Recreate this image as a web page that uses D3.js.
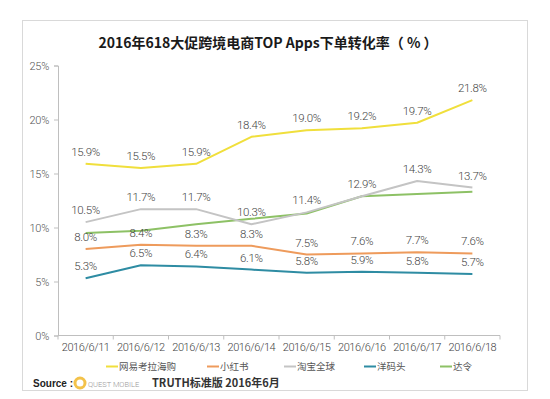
<!DOCTYPE html>
<html><head><meta charset="utf-8">
<script src="https://cdn.jsdelivr.net/npm/d3@7"></script>
<style>
body{margin:0;background:#fff;}
svg{display:block;}
</style></head>
<body>
<svg id="c" width="550" height="399"></svg>
<script>
const categories = ["2016/6/11","2016/6/12","2016/6/13","2016/6/14","2016/6/15","2016/6/16","2016/6/17","2016/6/18"];
const seriesNames = ["网易考拉海购","小红书","淘宝全球","洋码头","达令"];
const kaola = [15.9,15.5,15.9,18.4,19.0,19.2,19.7,21.8];
const xiaohongshu = [8.0,8.4,8.3,8.3,7.5,7.6,7.7,7.6];
const taobao = [10.5,11.7,11.7,10.3,11.4,12.9,14.3,13.7];
const yangmatou = [5.3,6.5,6.4,6.1,5.8,5.9,5.8,5.7];
const daling = [9.5,9.7,10.3,10.8,11.3,12.9,13.1,13.3];
const yTicks = [0,5,10,15,20,25];
const colors = ["#F0DF3C","#EE9B5C","#C4C4C4","#2E8CA3","#8DC165"];

const series = [
  {name:seriesNames[0], values:kaola, color:colors[0], labels:true},
  {name:seriesNames[1], values:xiaohongshu, color:colors[1], labels:true},
  {name:seriesNames[2], values:taobao, color:colors[2], labels:true},
  {name:seriesNames[3], values:yangmatou, color:colors[3], labels:true},
  {name:seriesNames[4], values:daling, color:colors[4], labels:false}
];

const svg = d3.select("#c");
const font = "Roboto,'Noto Sans',sans-serif";

// frame
svg.append("rect").attr("x",22.5).attr("y",20.5).attr("width",505).attr("height",370)
  .attr("fill","#fff").attr("stroke","#d9d9d9").attr("stroke-width",1);

// title
svg.append("text").attr("x",268).attr("y",48).attr("text-anchor","middle")
  .attr("font-family","'Noto Sans CJK SC',sans-serif").attr("font-weight","bold")
  .attr("font-size",14).attr("fill","#1a1a1a")
  .text("2016年618大促跨境电商TOP Apps下单转化率（ % ）");

const x = d3.scaleBand().domain(categories).range([58,500]);
const y = d3.scaleLinear().domain([0,25]).range([335.5,65.5]);

// y axis
const ya = svg.append("g").attr("transform","translate(58,0)")
  .call(d3.axisLeft(y).tickValues(yTicks).tickFormat(d=>d+"%").tickSize(4).tickPadding(5));
ya.select(".domain").attr("stroke","#bfbfbf");
ya.selectAll(".tick line").attr("stroke","#bfbfbf");
ya.selectAll("text").attr("font-family",font).attr("font-weight",300).attr("font-size",11)
  .attr("letter-spacing",-0.3).attr("fill","#555");

// x axis
const xa = svg.append("g").attr("transform","translate(0,335.5)")
  .call(d3.axisBottom(x).tickSize(0).tickPadding(8));
xa.select(".domain").attr("stroke","#bfbfbf").attr("d","M58,0H500");
xa.selectAll("text").attr("font-family",font).attr("font-weight",300).attr("font-size",11)
  .attr("letter-spacing",-0.4).attr("fill","#444");
// band boundary ticks
const bounds = categories.map(c=>x(c)).concat([x(categories[categories.length-1])+x.bandwidth()]);
svg.append("g").selectAll("line").data(bounds).join("line")
  .attr("x1",d=>d).attr("x2",d=>d).attr("y1",335.5).attr("y2",339.5)
  .attr("stroke","#bfbfbf");

const cx = c => x(c) + x.bandwidth()/2;
const line = d3.line().x((d,i)=>cx(categories[i])).y(d=>y(d));

// draw order: daling under taobao
const drawOrder = [4,2,1,3,0];
drawOrder.forEach(k=>{
  const s = series[k];
  svg.append("path").datum(s.values).attr("d",line)
    .attr("fill","none").attr("stroke",s.color).attr("stroke-width",2).attr("stroke-linejoin","round");
});

series.forEach(s=>{
  if(!s.labels) return;
  svg.append("g").selectAll("text").data(s.values).join("text")
    .attr("x",(d,i)=>cx(categories[i])).attr("y",d=>y(d)-8)
    .attr("text-anchor","middle").attr("font-family",font).attr("font-weight",300)
    .attr("font-size",11.5).attr("letter-spacing",-0.3).attr("fill","#444")
    .text(d=>d.toFixed(1)+"%");
});

// legend
const legX = [106,207,284,364,440];
const lg = svg.append("g");
series.forEach((s,i)=>{
  lg.append("line").attr("x1",legX[i]).attr("x2",legX[i]+12).attr("y1",366.5).attr("y2",366.5)
    .attr("stroke",s.color).attr("stroke-width",2);
  lg.append("text").attr("x",legX[i]+13).attr("y",370).attr("font-family","'Noto Sans CJK SC',sans-serif")
    .attr("font-size",9.5).attr("fill","#555").text(s.name);
});

// source
svg.append("text").attr("x",33).attr("y",387).attr("font-family","'Liberation Sans',sans-serif")
  .attr("font-weight","bold").attr("font-size",10).attr("fill","#222").text("Source :");
svg.append("circle").attr("cx",80).attr("cy",383).attr("r",5).attr("fill","none")
  .attr("stroke","#F3C24A").attr("stroke-width",3);
svg.append("text").attr("x",88).attr("y",386.5).attr("font-family",font).attr("font-weight",300)
  .attr("font-size",7.5).attr("fill","#9a9a9a").text("QUEST MOBILE");
svg.append("text").attr("x",152).attr("y",387).attr("font-family","'Noto Sans CJK SC',sans-serif")
  .attr("font-weight","bold").attr("font-size",11).attr("fill","#333").text("TRUTH标准版 2016年6月");
</script>
</body></html>
